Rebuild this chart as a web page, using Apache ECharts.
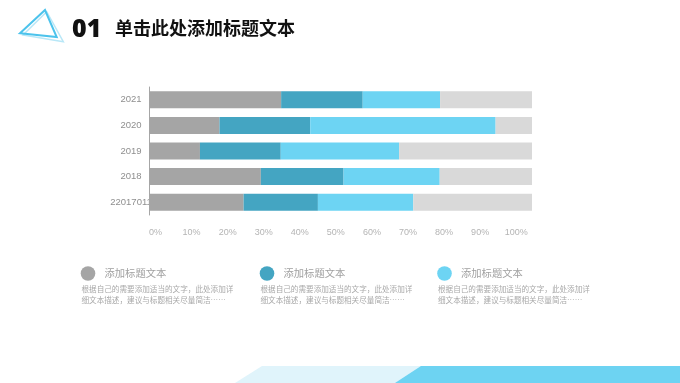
<!DOCTYPE html>
<html>
<head>
<meta charset="utf-8">
<script src="https://cdn.jsdelivr.net/npm/echarts@6/dist/echarts.min.js"></script>
<style>
html,body{margin:0;padding:0;background:#fff;}
#c{width:680px;height:383px;}
</style>
</head>
<body>
<div id="c"></div>
<script>
// Data (top-to-bottom order)
var categories = ['2021', '2020', '2019', '2018', '22017011'];
var seriesA = [34.5, 18.4, 13.3, 29.2, 24.7];   // grey
var seriesB = [21.3, 23.7, 21.1, 21.6, 19.4];   // dark blue
var seriesC = [20.2, 48.4, 30.9, 25.1, 24.9];   // light blue
var seriesRest = [24.0, 9.5, 34.7, 24.1, 31.0]; // remainder (light grey)
var xTickMax = 100;
var xTickStep = 10;

var legendTitles = ['添加标题文本', '添加标题文本', '添加标题文本'];
var legendDesc1 = '根据自己的需要添加适当的文字，此处添加详';
var legendDesc2 = '细文本描述，建议与标题相关尽量简洁……';
var heading = '单击此处添加标题文本';
var headingNo = '01';

var colors = ['#a5a5a5', '#44a5c2', '#6dd4f3', '#d9d9d9'];

var chart = echarts.init(document.getElementById('c'), null, {renderer: 'canvas'});

function barSeries(name, data, color) {
  return {
    name: name, type: 'bar', stack: 'total', data: data,
    xAxisIndex: 0, yAxisIndex: 0, barWidth: 17,
    itemStyle: {color: color}, silent: true
  };
}

var legendX = [88, 267, 444.5];
var graphics = [];
// decorative triangle
graphics.push({type: 'polygon', shape: {points: [[23, 35], [46.7, 11.7], [63.3, 41.7]]},
  style: {fill: 'none', stroke: '#b8e7f7', lineWidth: 1.5}});
graphics.push({type: 'polygon', shape: {points: [[20, 33.3], [45, 10], [56.7, 37]]},
  style: {fill: 'none', stroke: '#4cc3ec', lineWidth: 2}});
// heading
graphics.push({type: 'text', left: 72, top: 17, style: {text: headingNo,
  font: '900 25px "Noto Sans", "DejaVu Sans", sans-serif', fill: '#111'}});
graphics.push({type: 'text', left: 115, top: 19, style: {text: heading,
  font: 'bold 18px "Noto Sans CJK SC", sans-serif', fill: '#111'}});
// legend blocks
for (var i = 0; i < 3; i++) {
  graphics.push({type: 'circle', shape: {cx: legendX[i], cy: 273.5, r: 7.3},
    style: {fill: colors[i]}});
  graphics.push({type: 'text', x: legendX[i] + 16.5, y: 273.5, style: {text: legendTitles[i],
    font: '10.3px "Noto Sans CJK SC", sans-serif', fill: '#a0a0a0', textVerticalAlign: 'middle'}});
  graphics.push({type: 'text', x: legendX[i] - 6.5, y: 289.5, style: {text: legendDesc1,
    font: '7.6px "Noto Sans CJK SC", sans-serif', fill: '#a8a8a8', textVerticalAlign: 'middle'}});
  graphics.push({type: 'text', x: legendX[i] - 6.5, y: 300.3, style: {text: legendDesc2,
    font: '7.6px "Noto Sans CJK SC", sans-serif', fill: '#a8a8a8', textVerticalAlign: 'middle'}});
}
// bottom decoration
graphics.push({type: 'polygon', shape: {points: [[262, 366], [680, 366], [680, 383], [235, 383]]},
  style: {fill: '#e0f4fb'}});
graphics.push({type: 'polygon', shape: {points: [[421, 366], [680, 366], [680, 383], [395, 383]]},
  style: {fill: '#6dd3f2'}});

var option = {
  animation: false,
  backgroundColor: '#ffffff',
  grid: [
    {left: 149, top: 87, width: 383, height: 128},
    {left: 155.5, top: 87, width: 360.7, height: 128}
  ],
  xAxis: [
    {gridIndex: 0, type: 'value', min: 0, max: xTickMax, show: false},
    {gridIndex: 1, type: 'value', min: 0, max: xTickMax, interval: xTickStep,
      axisLine: {show: false}, axisTick: {show: false}, splitLine: {show: false},
      axisLabel: {formatter: '{value}%', color: '#b4b4b4', fontSize: 9,
        fontFamily: '"Liberation Sans", Arial, sans-serif', margin: 13}}
  ],
  yAxis: [
    {gridIndex: 0, type: 'category', data: categories, inverse: true,
      axisLine: {show: true, lineStyle: {color: '#a6a6a6', width: 1}},
      axisTick: {show: false},
      axisLabel: {align: 'center', margin: 18, color: '#8f8f8f', fontSize: 9.5,
        fontFamily: '"Liberation Sans", Arial, sans-serif'}},
    {gridIndex: 1, type: 'category', data: categories, inverse: true, show: false}
  ],
  series: [
    barSeries('A', seriesA, colors[0]),
    barSeries('B', seriesB, colors[1]),
    barSeries('C', seriesC, colors[2]),
    barSeries('Rest', seriesRest, colors[3])
  ],
  graphic: graphics
};
chart.setOption(option);
</script>
</body>
</html>
